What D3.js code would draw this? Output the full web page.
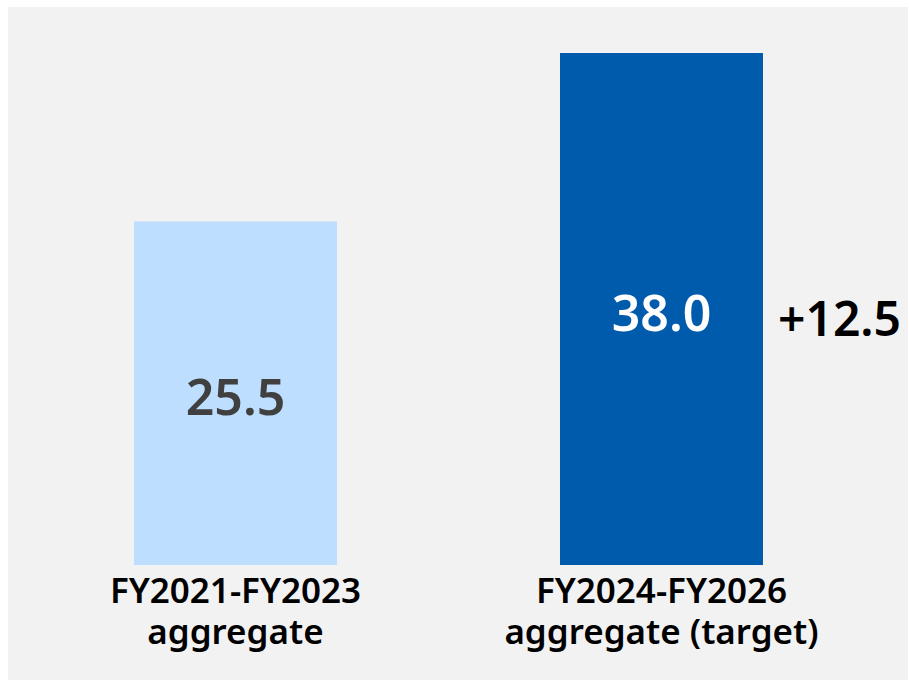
<!DOCTYPE html>
<html>
<head>
<meta charset="utf-8">
<script src="https://cdn.jsdelivr.net/npm/d3@7"></script>
<style>
  body { margin: 0; background: #fff; }
  svg { display: block; font-family: "Segoe UI", "Noto Sans", sans-serif; }
</style>
</head>
<body>
<script>
const categories = [["FY2021-FY2023", "aggregate"], ["FY2024-FY2026", "aggregate (target)"]];
const values = [25.5, 38.0];
const barColors = ["#bddeff", "#005bac"];
const labelColors = ["#404040", "#ffffff"];
const deltaLabel = "+12.5";

const width = 909, height = 685;

const svg = d3.select("body").append("svg")
	.attr("width", width)
	.attr("height", height);

svg.append("rect")
	.attr("x", 8).attr("y", 7)
	.attr("width", 900).attr("height", 673)
	.attr("fill", "#f2f2f2");

const x = d3.scaleBand()
	.domain(d3.range(values.length))
	.range([27.5, 869.5])
	.paddingInner(0.5235)
	.paddingOuter(0.25);

const y = d3.scaleLinear()
	.domain([0, 38])
	.range([565, 53]);

const bars = svg.append("g")
	.selectAll("g")
	.data(values)
	.enter()
	.append("g");

bars.append("rect")
	.attr("x", (d, i) => x(i))
	.attr("y", d => y(d))
	.attr("width", x.bandwidth())
	.attr("height", d => y(0) - y(d))
	.attr("fill", (d, i) => barColors[i]);

bars.append("text")
	.attr("x", (d, i) => x(i) + x.bandwidth() / 2)
	.attr("y", d => (y(d) + y(0)) / 2 + 22)
	.attr("text-anchor", "middle")
	.attr("fill", (d, i) => labelColors[i])
	.style("font-size", "50px")
	.style("font-weight", 600)
	.text(d => d.toFixed(1));

// category labels, two lines each
bars.append("text")
	.attr("text-anchor", "middle")
	.attr("fill", "#000")
	.style("font-size", "35px")
	.style("font-weight", 600)
	.each(function (d, i) {
		const t = d3.select(this);
		categories[i].forEach((line, k) => {
			t.append("tspan")
				.attr("x", x(i) + x.bandwidth() / 2)
				.attr("y", 603 + k * 41)
				.text(line);
		});
	});

// difference label to the right of the second bar
svg.append("text")
	.attr("x", x(1) + x.bandwidth() + 15)
	.attr("y", (y(values[1]) + y(0)) / 2 + 27)
	.attr("fill", "#000")
	.style("font-size", "48px")
	.style("font-weight", 600)
	.text(deltaLabel);
</script>
</body>
</html>
